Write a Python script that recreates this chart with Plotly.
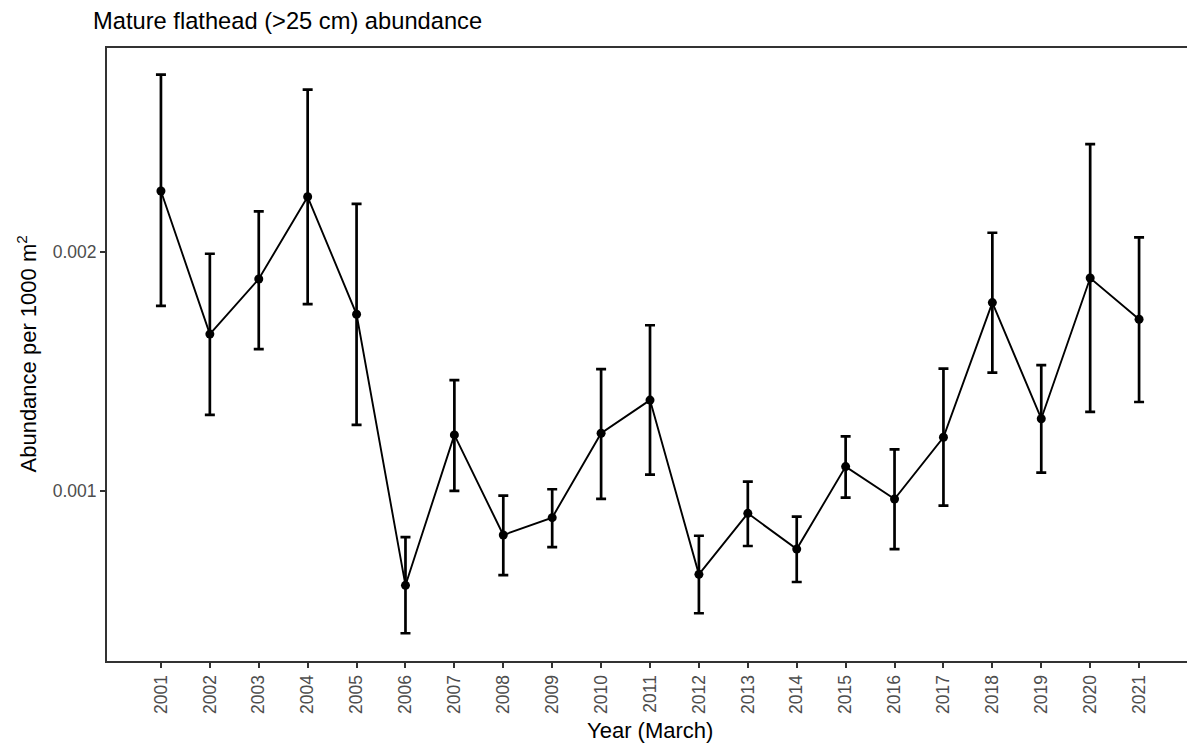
import plotly.graph_objects as go

years = [2001, 2002, 2003, 2004, 2005, 2006, 2007, 2008, 2009, 2010, 2011,
         2012, 2013, 2014, 2015, 2016, 2017, 2018, 2019, 2020, 2021]
abundance = [0.002257, 0.001657, 0.001888, 0.002233, 0.001740, 0.000603, 0.001234,
             0.000814, 0.000887, 0.001241, 0.001380, 0.000649, 0.000905, 0.000755,
             0.001101, 0.000965, 0.001224, 0.001789, 0.001302, 0.001892, 0.001719]
upper = [0.002745, 0.001994, 0.002172, 0.002682, 0.002203, 0.000805, 0.001464,
         0.000979, 0.001006, 0.001510, 0.001694, 0.000811, 0.001038, 0.000891,
         0.001228, 0.001173, 0.001512, 0.002082, 0.001527, 0.002454, 0.002063]
lower = [0.001775, 0.001318, 0.001594, 0.001783, 0.001276, 0.000402, 0.000999,
         0.000646, 0.000763, 0.000966, 0.001067, 0.000486, 0.000768, 0.000617,
         0.000971, 0.000755, 0.000937, 0.001495, 0.001076, 0.001331, 0.001372]
year_labels = [str(y) for y in years]
y_ticks = [0.001, 0.002]
y_tick_labels = ["0.001", "0.002"]

err_plus = [u - a for u, a in zip(upper, abundance)]
err_minus = [a - l for a, l in zip(abundance, lower)]

fig = go.Figure()
fig.add_trace(go.Scatter(
    x=years, y=abundance, mode="lines+markers",
    line=dict(color="black", width=1.9),
    marker=dict(color="black", size=9),
    error_y=dict(type="data", symmetric=False, array=err_plus, arrayminus=err_minus,
                 color="black", thickness=2.7, width=5),
    showlegend=False,
))

W, H = 1187, 744
L, R, T, B = 107, 0, 48, 83
pw = W - L - R
ph = H - T - B

fig.update_layout(
    width=W, height=H,
    margin=dict(l=L, r=R, t=T, b=B),
    paper_bgcolor="white", plot_bgcolor="white",
    font=dict(family="Liberation Sans, Arial, sans-serif", color="black"),
    title=dict(text="Mature flathead (>25 cm) abundance",
               font=dict(size=23.7, color="black"),
               xref="container", yref="container",
               x=93 / W, xanchor="left", y=1 - 21 / H, yanchor="middle"),
    xaxis=dict(
        range=[1999.897, 2021.98],
        tickmode="array", tickvals=years, ticktext=year_labels,
        tickangle=-90, tickfont=dict(size=17.5, color="#4D4D4D"),
        ticks="outside", ticklen=5, tickwidth=2, tickcolor="#333333",
        showline=True, linecolor="#333333", linewidth=2, mirror=True,
        showgrid=False, zeroline=False,
    ),
    yaxis=dict(
        range=[0.0002856, 0.002857],
        tickmode="array", tickvals=y_ticks, ticktext=y_tick_labels,
        tickfont=dict(size=17.5, color="#4D4D4D"),
        ticks="outside", ticklen=5, tickwidth=2, tickcolor="#333333",
        showline=True, linecolor="#333333", linewidth=2, mirror=False,
        showgrid=False, zeroline=False,
    ),
    annotations=[
        dict(text="Year (March)", xref="paper", yref="paper",
             x=(650 - L) / pw, y=-(730 - (H - B)) / ph,
             xanchor="center", yanchor="middle", showarrow=False,
             font=dict(size=22, color="black")),
        dict(text="Abundance per 1000 m<sup>2</sup>", xref="paper", yref="paper",
             x=(26 - L) / pw, y=0.5, textangle=-90,
             xanchor="center", yanchor="middle", showarrow=False,
             font=dict(size=22, color="black")),
    ],
)

fig.write_html("out.html")
